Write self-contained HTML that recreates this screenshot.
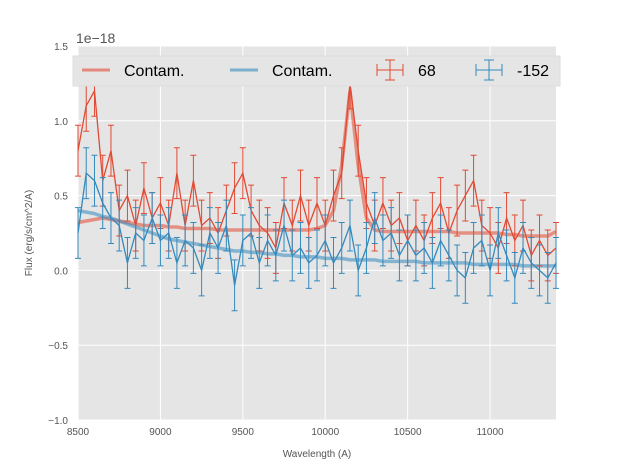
<!DOCTYPE html>
<html><head><meta charset="utf-8"><style>
body{margin:0;background:#fff;}
svg{display:block;font-family:"Liberation Sans",sans-serif;}
</style></head><body>
<svg id="chart" width="617" height="467" viewBox="0 0 617 467" xmlns="http://www.w3.org/2000/svg">
<rect x="78" y="46" width="478" height="374" fill="#e5e5e5"/>
<g id="grid"></g><g id="marks"></g><g id="axes"></g>
<text x="76" y="43" font-size="14" fill="#555">1e−18</text>
<text x="317" y="457" font-size="10" fill="#555" text-anchor="middle">Wavelength (A)</text>
<text transform="translate(32,233) rotate(-90)" font-size="10" fill="#555" text-anchor="middle">Flux (erg/s/cm^2/A)</text>
<g>
<rect x="73" y="56" width="487" height="30" fill="#e5e5e5" stroke="#ddd"/>
<g><line x1="82" y1="70" x2="110" y2="70" stroke="#e24a33" stroke-opacity="0.6" stroke-width="3"/><text x="124" y="76" font-size="16">Contam.</text></g>
<g><line x1="230" y1="70" x2="258" y2="70" stroke="#348abd" stroke-opacity="0.6" stroke-width="3"/><text x="272" y="76" font-size="16">Contam.</text></g>
<g><path d="M377 70H403M390 60V80M385 60H395M385 80H395M377 64V76M403 64V76" stroke="#e24a33" fill="none"/><text x="418" y="76" font-size="16">68</text></g>
<g><path d="M476 70H502M489 60V80M484 60H494M484 80H494M476 64V76M502 64V76" stroke="#348abd" fill="none"/><text x="517" y="76" font-size="16">-152</text></g>
</g>
</svg>
<script>
const wave0 = 8500, waveStep = 50;
const redFlux = [0.8,1.1,1.2,0.6,0.8,0.4,0.5,0.3,0.55,0.35,0.45,0.3,0.65,0.3,0.6,0.3,0.35,0.25,0.4,0.55,0.65,0.4,0.3,0.25,0.15,0.45,0.3,0.5,0.3,0.45,0.3,0.5,0.65,1.25,0.8,0.45,0.3,0.45,0.3,0.35,0.2,0.3,0.2,0.35,0.45,0.25,0.4,0.5,0.6,0.3,0.25,0.15,0.35,0.2,0.3,0.1,0.2,0.1,0.15];
const blueFlux = [0.25,0.65,0.6,0.45,0.35,0.3,0.05,0.25,0.2,0.35,0.2,0.25,0.05,0.2,0.15,0,0.25,0.15,0.3,-0.1,0.2,0.25,0.05,0.2,0.1,0.3,0.1,0.15,0.05,0.1,0.2,0.05,0.15,0.3,0,0.15,0.35,0.2,0.25,0.1,0.2,0.1,0.15,0.05,0.2,0.1,0,-0.05,0.15,0.2,0,0.25,0.1,-0.05,0.15,0.05,0,-0.05,0.05];
const redContam = [0.32,0.33,0.34,0.35,0.34,0.33,0.32,0.31,0.3,0.3,0.3,0.29,0.29,0.28,0.28,0.28,0.28,0.27,0.27,0.27,0.27,0.27,0.27,0.27,0.27,0.27,0.27,0.27,0.27,0.28,0.3,0.4,0.7,1.2,0.7,0.35,0.27,0.26,0.26,0.26,0.26,0.26,0.26,0.26,0.26,0.26,0.25,0.25,0.25,0.25,0.25,0.25,0.24,0.24,0.23,0.23,0.23,0.23,0.26];
const blueContam = [0.4,0.39,0.38,0.36,0.35,0.33,0.31,0.29,0.27,0.25,0.23,0.21,0.2,0.19,0.18,0.17,0.16,0.15,0.14,0.13,0.13,0.12,0.12,0.11,0.11,0.1,0.1,0.09,0.09,0.09,0.08,0.08,0.08,0.07,0.07,0.07,0.07,0.06,0.06,0.06,0.06,0.06,0.05,0.05,0.05,0.05,0.05,0.05,0.04,0.04,0.04,0.04,0.04,0.04,0.03,0.03,0.03,0.03,0.03];
const redErr = [0.17];
const blueErr = [0.17];
const xTicks = [8500,9000,9500,10000,10500,11000];
const yTicks = [-1.0,-0.5,0.0,0.5,1.0,1.5];

const NS="http://www.w3.org/2000/svg";
const X0=78,X1=556,Y0=420,Y1=46,XMIN=8500,XMAX=11400,YMIN=-1,YMAX=1.5;
function xs(v){return X0+(v-XMIN)/(XMAX-XMIN)*(X1-X0);}
function ys(v){return Y0-(v-YMIN)/(YMAX-YMIN)*(Y0-Y1);}
function mk(tag,attrs,parent){const e=document.createElementNS(NS,tag);for(const k in attrs)e.setAttribute(k,attrs[k]);parent.appendChild(e);return e;}
const grid=document.getElementById('grid'),marks=document.getElementById('marks'),axes=document.getElementById('axes');
xTicks.forEach(t=>{
  const l=mk('line',{x1:xs(t),x2:xs(t),y1:Y1,y2:Y0,stroke:'#fff','stroke-width':1},grid);
  
  
  const tx=mk('text',{x:xs(t),y:Y0+15,'font-size':10,fill:'#555','text-anchor':'middle'},axes);
  tx.textContent=t;
  
  
});
yTicks.forEach(t=>{
  const l=mk('line',{x1:X0,x2:X1,y1:ys(t),y2:ys(t),stroke:'#fff','stroke-width':1},grid);
  
  
  const tx=mk('text',{x:X0-10,y:ys(t)+4,'font-size':10,fill:'#555','text-anchor':'end'},axes);
  tx.textContent=(t<0?'−':'')+Math.abs(t).toFixed(1);
  
  
});
function wl(i){return wave0+i*waveStep;}
function pathOf(arr){return arr.map((v,i)=>(i?'L':'M')+xs(Math.min(wl(i),XMAX)).toFixed(1)+' '+ys(v).toFixed(1)).join('');}
function contam(arr,color,name){
  const p=mk('path',{d:pathOf(arr),stroke:color,'stroke-opacity':0.55,'stroke-width':3.5,fill:'none'},marks);
  
  
}
function series(arr,err,color,name){
  let d='';
  arr.forEach((v,i)=>{const x=xs(Math.min(wl(i),XMAX)),e=err[i%err.length];const a=ys(v+e),b=ys(v-e);
    d+=`M${x} ${a}V${b}M${x-3} ${a}H${x+3}M${x-3} ${b}H${x+3}`;});
  const eb=mk('path',{d:d,stroke:color,'stroke-width':1,fill:'none'},marks);
  
  
  const p=mk('path',{d:pathOf(arr),stroke:color,'stroke-width':1.3,fill:'none'},marks);
  
  
}
contam(redContam,'#e24a33','contam-68');
contam(blueContam,'#348abd','contam-minus-152');
series(redFlux,redErr,'#e24a33','spectrum-68');
series(blueFlux,blueErr,'#348abd','spectrum-minus-152');
</script>
</body></html>
